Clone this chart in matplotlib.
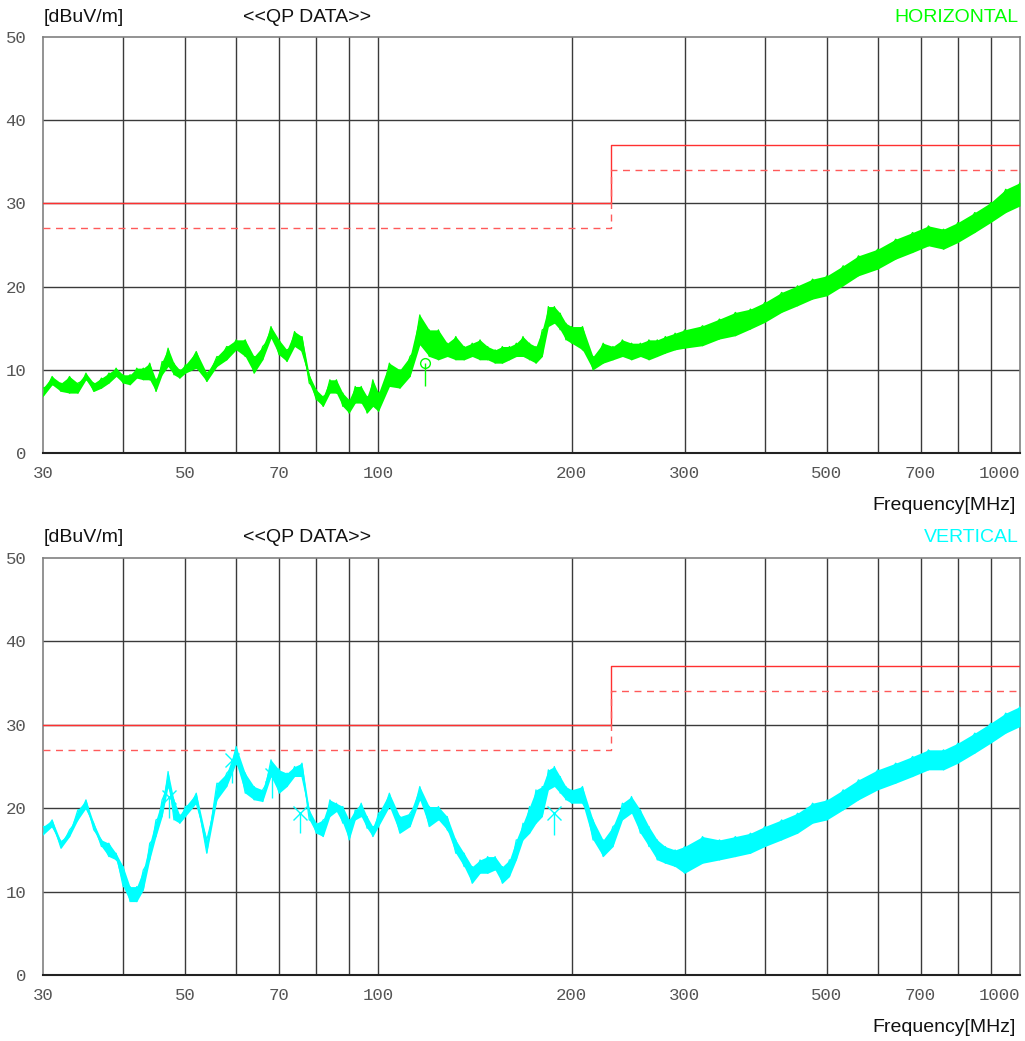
import matplotlib
matplotlib.use("Agg")
import matplotlib.pyplot as plt
from matplotlib.ticker import FixedLocator, NullLocator

# ---------------- data ----------------
freq = [30, 31, 32, 33, 34, 35, 36, 37, 38, 39, 40, 41, 42, 43, 44, 45, 46, 47, 48, 49, 50,
        52, 54, 56, 58, 60, 62, 64, 66, 68, 70, 72, 74, 76, 78, 80, 82, 84, 86, 88, 90, 92, 94, 96, 98, 100,
        104, 108, 112, 116, 120, 124, 128, 132, 136, 140, 144, 148, 152, 156, 160, 164, 168, 172, 176,
        180, 184, 188, 192, 196, 200,
        208, 216, 224, 232, 240, 248, 256, 264, 272, 280, 290, 300,
        320, 340, 360, 380, 400, 425, 450, 475, 500, 530, 560,
        600, 640, 680, 720, 760, 800, 850, 900, 950, 1000]

h_low = [6.8, 8.2, 7.4, 7.2, 7.2, 8.8, 7.4, 7.8, 8.4, 9.2, 8.4, 8.2, 9.0, 8.8, 8.8, 7.4, 9.4, 10.4, 9.4, 9.0, 9.6,
         10.2, 8.6, 10.4, 11.2, 12.4, 11.6, 9.6, 11.2, 13.8, 11.8, 11.0, 12.8, 12.2, 8.4, 6.4, 5.6, 7.2, 7.2, 5.6, 4.8, 6.0, 6.0, 4.8, 5.6, 5.0,
         8.0, 7.8, 9.2, 13.0, 11.6, 11.2, 11.6, 11.2, 11.2, 11.6, 11.2, 11.2, 10.8, 10.8, 11.2, 11.6, 11.6, 11.2, 10.8,
         11.6, 15.2, 15.6, 14.8, 13.6, 13.2,
         12.4, 10.0, 10.8, 11.2, 11.6, 11.2, 11.6, 11.2, 11.6, 12.0, 12.4, 12.6,
         12.9, 13.7, 14.1, 14.9, 15.7, 16.9, 17.7, 18.5, 18.9, 20.1, 21.3,
         22.1, 23.3, 24.1, 24.9, 24.5, 25.3, 26.5, 27.7, 28.9, 29.7]
h_high = [7.8, 9.2, 8.4, 9.2, 8.4, 9.6, 8.4, 9.0, 9.6, 10.2, 9.4, 9.4, 10.2, 10.2, 10.8, 8.8, 11.0, 12.6, 10.8, 10.0, 10.6,
          12.2, 9.6, 11.6, 12.8, 13.6, 13.6, 11.6, 12.8, 15.2, 13.6, 12.4, 14.6, 14.0, 9.4, 7.6, 6.8, 8.8, 8.8, 7.2, 6.4, 8.0, 8.0, 6.8, 8.8, 7.2,
          10.8, 10.0, 11.6, 16.6, 14.8, 14.8, 13.2, 14.0, 12.8, 13.2, 13.6, 12.8, 12.4, 12.8, 12.8, 13.2, 14.0, 13.2, 12.8,
          14.8, 17.6, 17.6, 16.8, 15.6, 15.2,
          15.2, 11.6, 13.2, 12.8, 13.6, 13.2, 13.2, 13.6, 13.6, 14.0, 14.4, 14.8,
          15.3, 16.1, 16.9, 17.3, 18.1, 19.3, 20.1, 20.9, 21.3, 22.5, 23.7,
          24.5, 25.7, 26.5, 27.3, 26.9, 27.7, 28.9, 30.1, 31.7, 32.5]

v_low = [16.8, 17.8, 15.2, 16.6, 18.6, 20.0, 17.4, 15.4, 14.2, 13.8, 10.6, 8.8, 8.8, 10.2, 13.8, 16.6, 19.0, 22.6, 18.6, 18.2, 19.0,
         20.6, 14.6, 21.0, 22.6, 25.4, 21.8, 21.0, 20.8, 23.8, 21.8, 22.6, 23.8, 23.8, 18.6, 17.0, 16.6, 19.0, 19.6, 18.2, 16.2, 18.6, 19.0, 17.6, 16.6, 17.8,
         20.2, 17.0, 17.8, 21.0, 17.8, 18.6, 17.4, 14.6, 13.0, 11.0, 12.2, 12.2, 12.6, 11.0, 11.8, 13.8, 16.2, 17.0, 18.2,
         19.0, 22.2, 22.6, 21.8, 21.0, 20.6,
         20.6, 16.2, 14.2, 15.4, 18.6, 19.4, 17.0, 15.4, 13.8, 13.4, 13.0, 12.2,
         13.4, 13.8, 14.2, 14.6, 15.4, 16.2, 17.0, 18.2, 18.6, 19.8, 21.0,
         22.2, 23.0, 23.8, 24.6, 24.6, 25.4, 26.6, 27.8, 29.0, 29.8]
v_high = [17.8, 18.6, 16.0, 17.4, 19.8, 21.0, 18.2, 16.2, 15.8, 14.6, 13.0, 10.6, 10.6, 12.6, 15.8, 18.6, 21.0, 24.4, 21.0, 19.2, 20.2,
          21.8, 16.2, 23.0, 24.2, 27.4, 24.2, 22.6, 22.2, 25.8, 24.6, 24.2, 25.0, 25.4, 19.8, 18.2, 18.6, 21.0, 20.6, 20.2, 18.6, 19.8, 20.6, 19.0, 17.8, 19.4,
          21.8, 19.0, 19.4, 22.6, 20.2, 20.2, 19.0, 16.2, 14.6, 13.0, 13.8, 14.2, 14.2, 13.0, 13.8, 16.2, 18.2, 20.2, 22.2,
          22.6, 24.6, 25.0, 23.8, 22.6, 22.2,
          22.6, 18.6, 16.2, 17.8, 20.6, 21.4, 19.8, 17.8, 16.2, 15.4, 15.0, 15.4,
          16.6, 16.2, 16.6, 17.0, 17.8, 18.6, 19.4, 20.6, 21.0, 22.2, 23.4,
          24.6, 25.4, 26.2, 27.0, 27.0, 27.8, 29.0, 30.2, 31.4, 32.2]

# limit lines (step at 230 MHz)
limit_freq = [30, 230, 1000]
limit_qp = [30, 37, 37]
limit_margin = [27, 34, 34]

# QP markers
h_mk_freq = [118.3]
h_mk_level = [10.8]
h_mk_base = [8.0]
v_mk_freq = [47.1, 59.2, 68.2, 75.5, 187.5]
v_mk_level = [21.4, 25.8, 24.0, 19.4, 19.4]
v_mk_base = [18.8, 23.0, 21.2, 17.0, 16.8]

grid_freqs = [40, 50, 60, 70, 80, 90, 100, 200, 300, 400, 500, 600, 700, 800, 900]
xtick_vals = [30, 50, 70, 100, 200, 300, 500, 700, 1000]
xtick_labels = ["30", "50", "70", "100", "200", "300", "500", "700", "1000"]
ytick_vals = [0, 10, 20, 30, 40, 50]

# ---------------- figure ----------------
W, H = 1025, 1041
fig = plt.figure(figsize=(W / 100, H / 100), dpi=100)
fig.patch.set_facecolor("white")

sans = ["Liberation Sans", "DejaVu Sans"]
mono = ["Liberation Mono", "DejaVu Sans Mono"]

panels = [
    dict(top=37, bottom=453, color="#00ff00", low=h_low, high=h_high, name="HORIZONTAL",
         mk=(h_mk_freq, h_mk_level, h_mk_base), mk_style="o", label_y=17, freq_y=506),
    dict(top=558, bottom=975, color="#00ffff", low=v_low, high=v_high, name="VERTICAL",
         mk=(v_mk_freq, v_mk_level, v_mk_base), mk_style="x", label_y=538, freq_y=1027),
]

for p in panels:
    left_px, right_px = 43, 1020
    ax = fig.add_axes([left_px / W, 1 - p["bottom"] / H,
                       (right_px - left_px) / W, (p["bottom"] - p["top"]) / H])
    ax.set_xscale("log")
    ax.set_xlim(30, 1000)
    ax.set_ylim(0, 50)

    # grid
    for gf in grid_freqs:
        ax.axvline(gf, color="#3a3a3a", lw=1.0, zorder=1)
    for gy in [10, 20, 30, 40]:
        ax.axhline(gy, color="#3a3a3a", lw=1.0, zorder=1)

    # limits
    ax.step(limit_freq, limit_qp, where="post", color="#ff3030", lw=1.0, zorder=3)
    ax.step(limit_freq, limit_margin, where="post", color="#ff5a5a", lw=1.0,
            linestyle=(0, (5, 4)), zorder=3)

    # trace: band between read envelopes + zigzag across them
    c = p["color"]
    lo, hi = p["low"], p["high"]
    ax.fill_between(freq, lo, hi, color=c, lw=0, zorder=4)
    zig = [lo[i] if i % 2 == 0 else hi[i] for i in range(len(freq))]
    zag = [hi[i] if i % 2 == 0 else lo[i] for i in range(len(freq))]
    ax.plot(freq, zig, color=c, lw=0.9, zorder=4)
    ax.plot(freq, zag, color=c, lw=0.9, zorder=4)

    # markers
    mf, ml, mb = p["mk"]
    ax.vlines(mf, mb, ml, color=c, lw=1.0, zorder=5)
    if p["mk_style"] == "o":
        ax.plot(mf, ml, "o", mfc="none", mec=c, ms=7, mew=1.0, zorder=5)
    else:
        ax.plot(mf, ml, "x", color=c, ms=10, mew=1.0, zorder=5)

    # ticks
    ax.xaxis.set_major_locator(FixedLocator(xtick_vals))
    ax.xaxis.set_minor_locator(NullLocator())
    ax.set_xticklabels(xtick_labels)
    ax.set_yticks(ytick_vals)
    ax.set_yticklabels([str(v) for v in ytick_vals])
    ax.tick_params(axis="both", length=0, labelsize=12.5, labelcolor="#555555")
    ax.tick_params(axis="x", pad=9)
    ax.tick_params(axis="y", pad=12)
    for lab in ax.get_xticklabels() + ax.get_yticklabels():
        lab.set_fontfamily(mono)
    ax.get_xticklabels()[-1].set_horizontalalignment("right")

    for s in ax.spines.values():
        s.set_color("#808080")
        s.set_linewidth(1.2)
    ax.spines["bottom"].set_color("#222222")
    ax.spines["bottom"].set_linewidth(1.5)

    # header texts
    fig.text(44 / W, 1 - p["label_y"] / H, "[dBuV/m]", ha="left", va="center",
             fontsize=14, family=sans, color="#111111")
    fig.text(243 / W, 1 - p["label_y"] / H, "<<QP DATA>>", ha="left", va="center",
             fontsize=14, family=sans, color="#111111")
    fig.text(1019 / W, 1 - p["label_y"] / H, p["name"], ha="right", va="center",
             fontsize=14, family=sans, color=c)
    fig.text(1016 / W, 1 - p["freq_y"] / H, "Frequency[MHz]", ha="right", va="center",
             fontsize=14, family=sans, color="#111111")

fig.savefig("out.png", dpi=100)
